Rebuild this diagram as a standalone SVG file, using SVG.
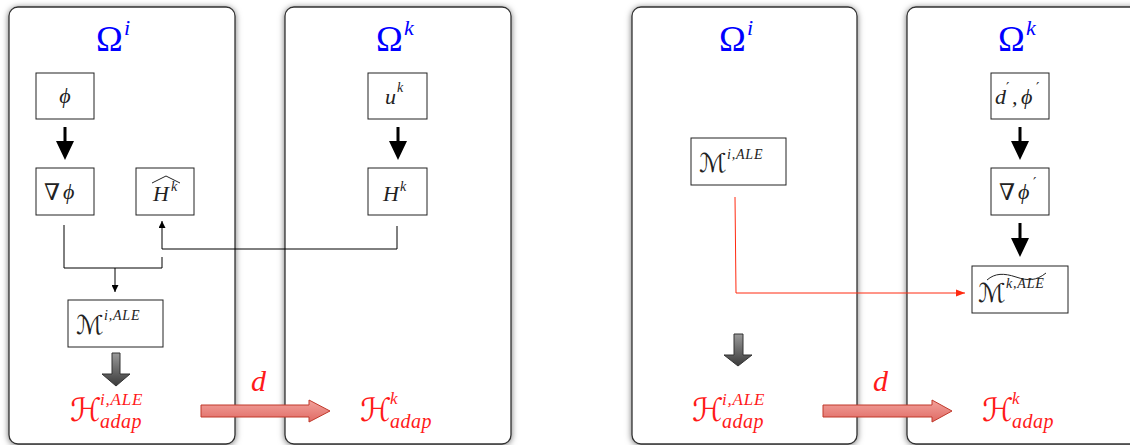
<svg xmlns="http://www.w3.org/2000/svg" width="1130" height="445" viewBox="0 0 1130 445">
<style>
.panel{fill:#fff;stroke:#333;stroke-width:1.3;filter:url(#sh)}
.box{fill:#fff;stroke:#222;stroke-width:1}
.om{font-family:"Liberation Serif",serif;font-size:36px;fill:#0000ff}
.omsup{font-family:"Liberation Serif",serif;font-style:italic;font-size:22px;fill:#0000ff}
.m{font-family:"Liberation Serif",serif;font-style:italic;font-size:22px;fill:#222}
.ms{font-family:"Liberation Serif",serif;font-style:italic;font-size:14px;fill:#222;letter-spacing:0.8px}
.pr{font-family:"DejaVu Serif",serif;font-size:15px;fill:#222}
.nab{font-family:"DejaVu Serif",serif;font-size:23px;fill:#222}
.cal{font-family:"DejaVu Serif","DejaVu Sans",serif;fill:#222}
.red{fill:#ff1a1a}
.rsup{font-family:"Liberation Serif",serif;font-style:italic;font-size:17px;fill:#ff1a1a;letter-spacing:0.8px}
.rsub{font-family:"Liberation Serif",serif;font-style:italic;font-size:20px;fill:#ff1a1a;letter-spacing:0.5px}
.dl{font-family:"Liberation Serif",serif;font-style:italic;font-size:30px;fill:#ff1a1a}
.thin{fill:none;stroke:#000;stroke-width:1}
.redl{fill:none;stroke:#ff2a10;stroke-width:1}
.thick{fill:#000}
.garrow{fill:url(#gg);stroke:#333;stroke-width:1}
.rarrow{fill:url(#rg);stroke:#c0392b;stroke-width:1}
.acc{fill:none;stroke:#222;stroke-width:1}
</style>
<defs>
<filter id="sh" x="-10%" y="-10%" width="120%" height="120%">
<feDropShadow dx="0" dy="1" stdDeviation="3" flood-color="#000" flood-opacity="0.55"/>
</filter>
<linearGradient id="gg" x1="0" y1="0" x2="0" y2="1">
<stop offset="0" stop-color="#9a9a9a"/>
<stop offset="1" stop-color="#3a3a3a"/>
</linearGradient>
<linearGradient id="rg" x1="0" y1="0" x2="0" y2="1">
<stop offset="0" stop-color="#f2a29c"/>
<stop offset="1" stop-color="#e06a64"/>
</linearGradient>
<marker id="ah" viewBox="0 0 10 10" refX="10" refY="5" markerWidth="7" markerHeight="7" markerUnits="userSpaceOnUse" orient="auto">
<path d="M0,0 L10,5 L0,10 z" fill="#000"/>
</marker>
<marker id="ahr" viewBox="0 0 10 10" refX="10" refY="5" markerWidth="9" markerHeight="9" markerUnits="userSpaceOnUse" orient="auto">
<path d="M0,1 L10,5 L0,9 z" fill="#ff2a10"/>
</marker>
</defs>
<rect width="1130" height="445" fill="#fff"/>

<g id="panel1">
<rect class="panel" x="9" y="7" width="226" height="437" rx="9"/>
<text class="om" x="96" y="51">Ω</text><text class="omsup" x="124" y="35">i</text>
</g>
<g id="panel2">
<rect class="panel" x="285" y="7" width="226" height="437" rx="9"/>
<text class="om" x="376" y="51">Ω</text><text class="omsup" x="404" y="35">k</text>
</g>
<g id="panel3">
<rect class="panel" x="632" y="7" width="225" height="437" rx="9"/>
<text class="om" x="719" y="51">Ω</text><text class="omsup" x="747" y="35">i</text>
</g>
<g id="panel4">
<rect class="panel" x="907" y="7" width="240" height="437" rx="9"/>
<text class="om" x="998" y="51">Ω</text><text class="omsup" x="1026" y="35">k</text>
</g>

<g id="n-phi">
<rect class="box" x="36" y="73" width="58" height="46"/>
<text class="m" x="65" y="103" text-anchor="middle">ϕ</text>
</g>
<g id="n-gradphi">
<rect class="box" x="36" y="168" width="58" height="47"/>
<text class="nab" x="44" y="200">∇</text><text class="m" x="63" y="199">ϕ</text>
</g>
<g id="n-hathk">
<rect class="box" x="136" y="168" width="58" height="47"/>
<text class="m" x="153" y="201">H</text><text class="ms" x="171" y="191">k</text>
<path class="acc" d="M152,183 L166,176 L180,183"/>
</g>
<g id="n-mi1">
<rect class="box" x="68" y="300" width="95" height="47"/>
<text class="cal" x="76" y="334" font-size="26">ℳ</text><text class="ms" x="104" y="320">i,ALE</text>
</g>
<g id="n-hi1">
<text class="cal red" x="70" y="421" font-size="32">ℋ</text>
<text class="rsup" x="100" y="405">i,ALE</text>
<text class="rsub" x="100" y="428">adap</text>
</g>
<g id="n-hk2">
<text class="cal red" x="360" y="421" font-size="32">ℋ</text>
<text class="rsup" x="390" y="404" font-size="16">k</text>
<text class="rsub" x="390" y="428">adap</text>
</g>
<g id="n-uk">
<rect class="box" x="368" y="73" width="59" height="46"/>
<text class="m" x="385" y="104">u</text><text class="ms" x="397" y="92">k</text>
</g>
<g id="n-hk">
<rect class="box" x="368" y="168" width="59" height="47"/>
<text class="m" x="383" y="201">H</text><text class="ms" x="400" y="191">k</text>
</g>
<g id="n-mi3">
<rect class="box" x="691" y="138" width="95" height="47"/>
<text class="cal" x="699" y="172" font-size="26">ℳ</text><text class="ms" x="727" y="159">i,ALE</text>
</g>
<g id="n-hi3">
<text class="cal red" x="692" y="421" font-size="32">ℋ</text>
<text class="rsup" x="722" y="405">i,ALE</text>
<text class="rsub" x="722" y="428">adap</text>
</g>
<g id="n-dphi">
<rect class="box" x="991" y="73" width="58" height="46"/>
<text class="m" x="995" y="104">d</text><text class="pr" x="1006" y="93">′</text>
<text class="m" x="1012" y="104">,</text>
<text class="m" x="1021" y="104">ϕ</text><text class="pr" x="1036" y="93">′</text>
</g>
<g id="n-gradphi2">
<rect class="box" x="991" y="168" width="58" height="47"/>
<text class="nab" x="999" y="200">∇</text><text class="m" x="1018" y="199">ϕ</text><text class="pr" x="1033" y="188">′</text>
</g>
<g id="n-mk">
<rect class="box" x="972" y="266" width="96" height="47"/>
<text class="cal" x="978" y="302" font-size="26">ℳ</text><text class="ms" x="1006" y="288">k,ALE</text>
<path class="acc" d="M987,280 C995,273 1004,273 1016,277 C1028,281 1036,281 1046,273"/>
</g>
<g id="n-hk4">
<text class="cal red" x="982" y="421" font-size="32">ℋ</text>
<text class="rsup" x="1012" y="404" font-size="16">k</text>
<text class="rsub" x="1012" y="428">adap</text>
</g>

<g id="connectors">
<path class="thick" d="M63.5,127 L66.5,127 L66.5,141 L74,141 L65,160 L56,141 L63.5,141 z"/>
<path class="thick" d="M396.5,127 L399.5,127 L399.5,141 L407,141 L398,160 L389,141 L396.5,141 z"/>
<path class="thick" d="M1018.5,127 L1021.5,127 L1021.5,141 L1029,141 L1020,160 L1011,141 L1018.5,141 z"/>
<path class="thick" d="M1018.5,223 L1021.5,223 L1021.5,238 L1029,238 L1020,257 L1011,238 L1018.5,238 z"/>
<path class="thin" d="M64,225 L64,268 L162,268 L162,257"/>
<path class="thin" d="M115,268 L115,292" marker-end="url(#ah)"/>
<path class="thin" d="M397,226 L397,249 L162,249 L162,221" marker-end="url(#ah)"/>
<path class="redl" d="M735,197 L736,293 L965,293" marker-end="url(#ahr)"/>
<path class="garrow" d="M112,353 L120,353 L120,374 L130,374 L116,386 L102,374 L112,374 z"/>
<path class="garrow" d="M734,334 L743,334 L743,355 L752,355 L738,366 L724,355 L734,355 z"/>
<path class="rarrow" d="M201,405 L309,405 L309,400 L330,411 L309,422 L309,417 L201,417 z"/>
<path class="rarrow" d="M823,405 L932,405 L932,400 L952,411 L932,422 L932,417 L823,417 z"/>
<text class="dl" x="251" y="391">d</text>
<text class="dl" x="873" y="391">d</text>
</g>
</svg>
